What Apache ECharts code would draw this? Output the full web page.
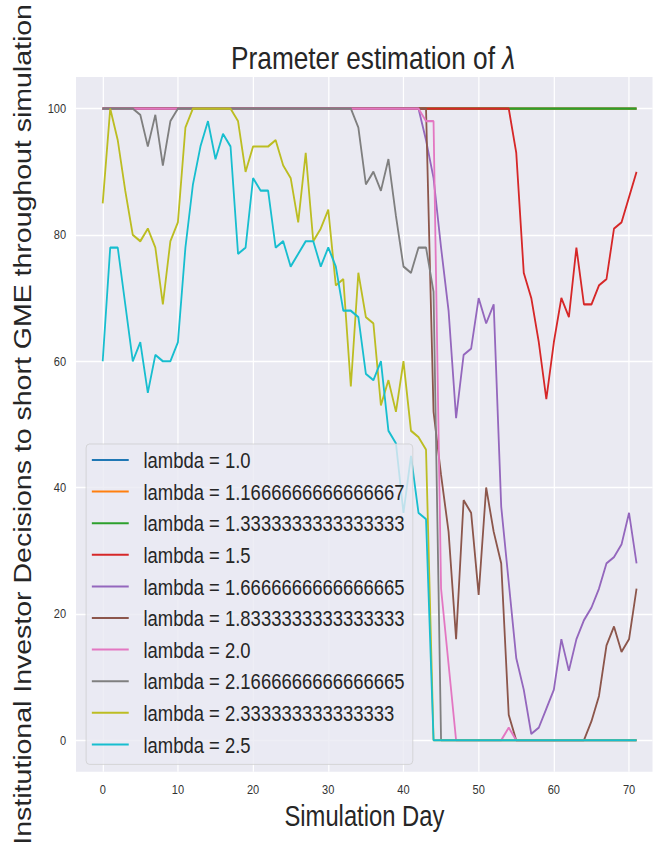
<!DOCTYPE html>
<html>
<head>
<meta charset="utf-8">
<script src="https://cdn.jsdelivr.net/npm/echarts@6/dist/echarts.min.js"></script>
<style>
html,body{margin:0;padding:0;background:#fff;overflow:hidden;width:653px;height:848px;}
#chart{width:796px;height:848px;transform:scaleX(0.82);transform-origin:0 0;}
</style>
</head>
<body>
<div id="chart"></div>
<script>
const days = [0,1,2,3,4,5,6,7,8,9,10,11,12,13,14,15,16,17,18,19,20,21,22,23,24,25,26,27,28,29,30,31,32,33,34,35,36,37,38,39,40,41,42,43,44,45,46,47,48,49,50,51,52,53,54,55,56,57,58,59,60,61,62,63,64,65,66,67,68,69,70,71];

const names = [
  "lambda = 1.0",
  "lambda = 1.1666666666666667",
  "lambda = 1.3333333333333333",
  "lambda = 1.5",
  "lambda = 1.6666666666666665",
  "lambda = 1.8333333333333333",
  "lambda = 2.0",
  "lambda = 2.1666666666666665",
  "lambda = 2.333333333333333",
  "lambda = 2.5"
];

const colors = ["#1f77b4","#ff7f0e","#2ca02c","#d62728","#9467bd","#8c564b","#e377c2","#7f7f7f","#bcbd22","#17becf"];

const lam100 = [100,100,100,100,100,100,100,100,100,100,100,100,100,100,100,100,100,100,100,100,100,100,100,100,100,100,100,100,100,100,100,100,100,100,100,100,100,100,100,100,100,100,100,100,100,100,100,100,100,100,100,100,100,100,100,100,100,100,100,100,100,100,100,100,100,100,100,100,100,100,100,100];
const lam116 = [100,100,100,100,100,100,100,100,100,100,100,100,100,100,100,100,100,100,100,100,100,100,100,100,100,100,100,100,100,100,100,100,100,100,100,100,100,100,100,100,100,100,100,100,100,100,100,100,100,100,100,100,100,100,100,100,100,100,100,100,100,100,100,100,100,100,100,100,100,100,100,100];
const lam133 = [100,100,100,100,100,100,100,100,100,100,100,100,100,100,100,100,100,100,100,100,100,100,100,100,100,100,100,100,100,100,100,100,100,100,100,100,100,100,100,100,100,100,100,100,100,100,100,100,100,100,100,100,100,100,100,100,100,100,100,100,100,100,100,100,100,100,100,100,100,100,100,100];
const lam150 = [100,100,100,100,100,100,100,100,100,100,100,100,100,100,100,100,100,100,100,100,100,100,100,100,100,100,100,100,100,100,100,100,100,100,100,100,100,100,100,100,100,100,100,100,100,100,100,100,100,100,100,100,100,100,100,93,74,70,63,54,63,70,67,78,69,69,72,73,81,82,86,90];
const lam166 = [100,100,100,100,100,100,100,100,100,100,100,100,100,100,100,100,100,100,100,100,100,100,100,100,100,100,100,100,100,100,100,100,100,100,100,100,100,100,100,100,100,100,100,95,89,78,68,51,61,62,70,66,69,37,25,13,8,1,2,5,8,16,11,16,19,21,24,28,29,31,36,28];
const lam183 = [100,100,100,100,100,100,100,100,100,100,100,100,100,100,100,100,100,100,100,100,100,100,100,100,100,100,100,100,100,100,100,100,100,100,100,100,100,100,100,100,100,100,100,100,52,42,33,16,38,36,23,40,33,28,4,0,0,0,0,0,0,0,0,0,0,3,7,15,18,14,16,24];
const lam200 = [100,100,100,100,100,100,100,100,100,100,100,100,100,100,100,100,100,100,100,100,100,100,100,100,100,100,100,100,100,100,100,100,100,100,100,100,100,100,100,100,100,100,100,98,98,24,12,0,0,0,0,0,0,0,2,0,0,0,0,0,0,0,0,0,0,0,0,0,0,0,0,0];
const lam216 = [100,100,100,100,100,99,94,99,91,98,100,100,100,100,100,100,100,100,100,100,100,100,100,100,100,100,100,100,100,100,100,100,100,100,97,88,90,87,92,83,75,74,78,78,71,0,0,0,0,0,0,0,0,0,0,0,0,0,0,0,0,0,0,0,0,0,0,0,0,0,0,0];
const lam233 = [85,100,95,87,80,79,81,78,69,79,82,97,100,100,100,100,100,100,98,90,94,94,94,95,91,89,82,93,79,81,84,72,73,56,74,67,66,53,57,52,60,49,48,46,0,0,0,0,0,0,0,0,0,0,0,0,0,0,0,0,0,0,0,0,0,0,0,0,0,0,0,0];
const lam250 = [60,78,78,69,60,63,55,61,60,60,63,78,88,94,98,92,96,94,77,78,89,87,87,78,79,75,77,79,79,75,78,75,68,68,67,58,57,60,49,47,36,45,36,35,0,0,0,0,0,0,0,0,0,0,0,0,0,0,0,0,0,0,0,0,0,0,0,0,0,0,0,0];

const xTicks = [0,10,20,30,40,50,60,70];
const yTicks = [0,20,40,60,80,100];

const allValues = [lam100,lam116,lam133,lam150,lam166,lam183,lam200,lam216,lam233,lam250];

const FONT = "'Liberation Sans', Arial, sans-serif";
const TXT = '#262626';

const series = allValues.map((vals, k) => ({
  name: names[k],
  type: 'line',
  data: days.map((d, i) => [d, vals[i]]),
  showSymbol: false,
  symbol: 'none',
  lineStyle: { width: 2.2, color: colors[k] },
  itemStyle: { color: colors[k] },
  emphasis: { disabled: true },
  animation: false
}));

const chart = echarts.init(document.getElementById('chart'), null, { renderer: 'svg' });
chart.setOption({
  animation: false,
  backgroundColor: '#ffffff',
  title: {
    text: 'Prameter estimation of {l|λ}',
    left: 450,
    top: 37,
    textAlign: 'center',
    textStyle: {
      fontFamily: FONT, fontSize: 32, fontWeight: 'normal', color: TXT,
      rich: { l: { fontFamily: FONT, fontSize: 32, fontStyle: 'italic', color: TXT } }
    }
  },
  grid: {
    left: 92.7, right: 0, top: 77, bottom: 72,
    show: true, backgroundColor: '#EAEAF2', borderWidth: 0
  },
  xAxis: {
    type: 'value',
    min: -3.55, max: 73.15,
    name: 'Simulation Day',
    nameLocation: 'middle',
    nameGap: 29,
    nameTextStyle: { fontFamily: FONT, fontSize: 29, color: TXT },
    axisLine: { show: false },
    axisTick: { show: false, customValues: xTicks },
    axisLabel: { customValues: xTicks, margin: 11, fontFamily: FONT, fontSize: 13.5, color: '#333' },
    splitLine: { show: true, lineStyle: { color: '#ffffff', width: 1.5 } }
  },
  yAxis: {
    type: 'value',
    min: -5, max: 105,
    name: 'Institutional Investor Decisions to short GME throughout simulation',
    nameLocation: 'middle',
    nameGap: 50,
    nameTextStyle: { fontFamily: FONT, fontSize: 28.5, color: TXT },
    axisLine: { show: false },
    axisTick: { show: false, customValues: yTicks },
    axisLabel: { customValues: yTicks, margin: 12, fontFamily: FONT, fontSize: 13.5, color: '#333' },
    splitLine: { show: true, lineStyle: { color: '#ffffff', width: 1.3 } }
  },
  legend: {
    orient: 'vertical',
    left: 105, top: 444,
    padding: [4, 10, 8, 7],
    itemGap: 7.6,
    itemWidth: 45, itemHeight: 2,
    icon: 'rect',
    backgroundColor: 'rgba(234,234,242,0.8)',
    borderColor: 'rgba(204,204,204,0.8)',
    borderWidth: 1,
    borderRadius: 4,
    textStyle: { fontFamily: FONT, fontSize: 22.5, color: TXT, lineHeight: 24, padding: [0, 0, 0, 13] },
    data: names
  },
  series: series
});
</script>
</body>
</html>
